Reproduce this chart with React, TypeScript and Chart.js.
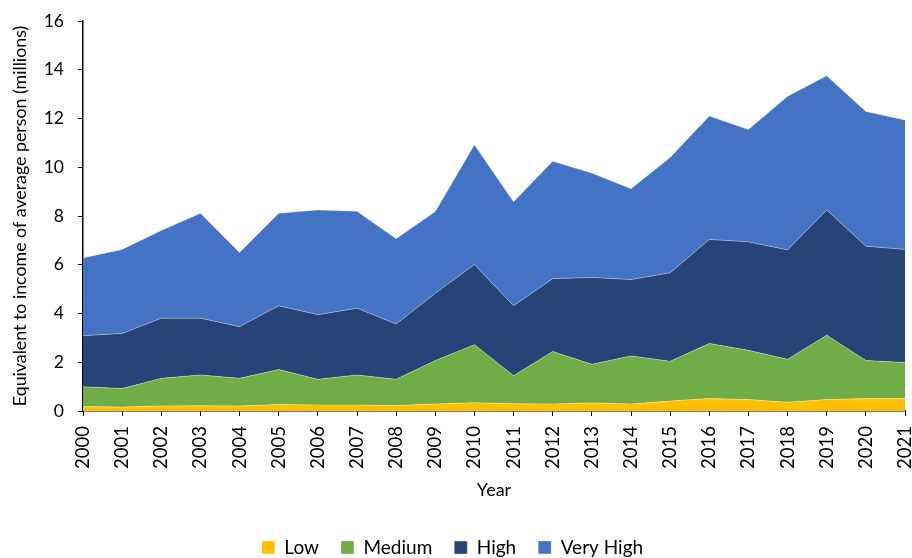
import React, { useEffect, useRef } from "react";
import { Chart, registerables } from "chart.js";

Chart.register(...registerables);

const years = ["2000","2001","2002","2003","2004","2005","2006","2007","2008","2009","2010","2011","2012","2013","2014","2015","2016","2017","2018","2019","2020","2021"];
const low = [0.18,0.16,0.21,0.22,0.21,0.27,0.25,0.25,0.23,0.29,0.34,0.30,0.29,0.33,0.29,0.41,0.51,0.47,0.36,0.47,0.51,0.51];
const medium = [0.82,0.76,1.13,1.26,1.13,1.43,1.05,1.23,1.07,1.78,2.38,1.15,2.15,1.59,1.97,1.63,2.26,2.02,1.76,2.64,1.56,1.48];
const high = [2.09,2.26,2.47,2.33,2.12,2.62,2.65,2.74,2.27,2.76,3.29,2.87,2.99,3.56,3.13,3.63,4.27,4.45,4.49,5.14,4.69,4.64];
const veryHigh = [3.19,3.45,3.60,4.30,3.04,3.79,4.30,3.97,3.50,3.35,4.91,4.26,4.82,4.28,3.73,4.73,5.06,4.61,6.30,5.50,5.53,5.31];
const seriesNames = ["Low", "Medium", "High", "Very High"];
const seriesColors = ["#FFC000", "#70AD47", "#264478", "#4472C4"];

export default function App() {
  const ref = useRef<HTMLCanvasElement | null>(null);
  useEffect(() => {
    if (!ref.current) return;
    const font = "Lato, 'Liberation Sans', sans-serif";
    const values = [low, medium, high, veryHigh];
    const chart = new Chart(ref.current, {
      type: "line",
      data: {
        labels: years,
        datasets: values.map((v, i) => ({
          label: seriesNames[i],
          data: v,
          backgroundColor: seriesColors[i],
          borderColor: "rgba(255,255,255,0.35)",
          borderWidth: 1,
          fill: i === 0 ? "origin" : "-1",
          pointRadius: 0,
          tension: 0,
        })),
      },
      options: {
        animation: false,
        responsive: false,
        maintainAspectRatio: false,
        layout: { padding: { top: 21, right: 7, left: 0, bottom: -9 } },
        plugins: {
          tooltip: { enabled: false },
          legend: {
            position: "bottom",
            labels: {
              boxWidth: 13,
              boxHeight: 13,
              padding: 22,
              color: "#000",
              font: { family: font, size: 19 },
            },
          },
        },
        scales: {
          x: {
            type: "category",
            offset: false,
            grid: { display: true, drawOnChartArea: false, color: "#000", tickLength: 5 },
            border: { color: "#000", width: 1.5 },
            ticks: {
              color: "#000",
              font: { family: font, size: 18.5 },
              minRotation: 90,
              maxRotation: 90,
              autoSkip: false,
              padding: 10,
            },
            title: {
              display: true,
              text: "Year",
              color: "#000",
              font: { family: font, size: 18 },
              padding: { top: 0, bottom: 15 },
            },
            afterFit: (s: any) => { s.height = 105; s.paddingLeft = 0; s.paddingRight = 0; },
          },
          y: {
            stacked: true,
            min: 0,
            max: 16,
            grid: { display: true, drawOnChartArea: false, color: "#000", tickLength: 5 },
            border: { color: "#000", width: 1.5 },
            ticks: {
              stepSize: 2,
              color: "#000",
              font: { family: font, size: 17.5 },
              padding: 14,
            },
            title: {
              display: true,
              text: "Equivalent to income of average person (millions)",
              color: "#000",
              font: { family: font, size: 17.8 },
              padding: { top: 10, bottom: 0 },
            },
            afterFit: (s: any) => { s.width = 83; s.paddingTop = 0; s.paddingBottom = 0; },
          },
        },
      },
    });
    return () => chart.destroy();
  }, []);
  return (
    <div style={{ position: "fixed", left: 0, top: 0, width: 912, height: 558, background: "#fff" }}>
      <canvas ref={ref} width={912} height={558} style={{ width: 912, height: 558 }} />
    </div>
  );
}
